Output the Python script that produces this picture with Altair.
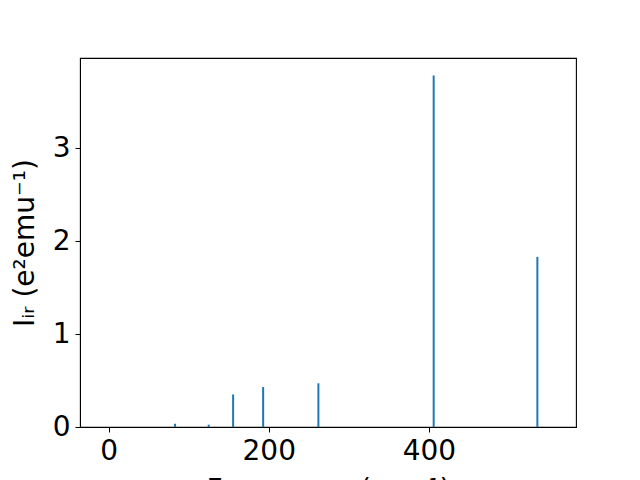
import altair as alt
import pandas as pd

freqs = [83, 125, 155.5, 193, 262, 406, 535.5]
intensity = [0.035, 0.025, 0.35, 0.43, 0.47, 3.78, 1.83]

df = pd.DataFrame({"freq": freqs, "ir": intensity})

axis_style = dict(grid=False, tickSize=5, labelPadding=5, labelFontSize=28,
                  titleFontSize=28, labelFont="DejaVu Sans",
                  titleFont="DejaVu Sans", titleFontWeight="normal",
                  domainColor="black", tickColor="black",
                  labelColor="black", titleColor="black")

chart = alt.Chart(df).mark_bar(color="#1f77b4", size=2).encode(
    x=alt.X("freq:Q", title="Frequency (cm⁻¹)",
            scale=alt.Scale(domain=[-29.5, 577.5], nice=False, zero=False),
            axis=alt.Axis(values=[0, 200, 400], titlePadding=11, **axis_style)),
    y=alt.Y("ir:Q", title="Iᵢᵣ (e²emu⁻¹)",
            scale=alt.Scale(domain=[0, 3.969], nice=False),
            axis=alt.Axis(values=[0, 1, 2, 3], titlePadding=13, **axis_style)),
).properties(
    width=496, height=369,
    autosize=alt.AutoSizeParams(type="none"),
    padding={"left": 72, "top": 50, "right": 56, "bottom": 60},
).configure_view(stroke="black", strokeWidth=1.1)

chart.save("out.html", embed_options={"renderer": "svg", "actions": False})
